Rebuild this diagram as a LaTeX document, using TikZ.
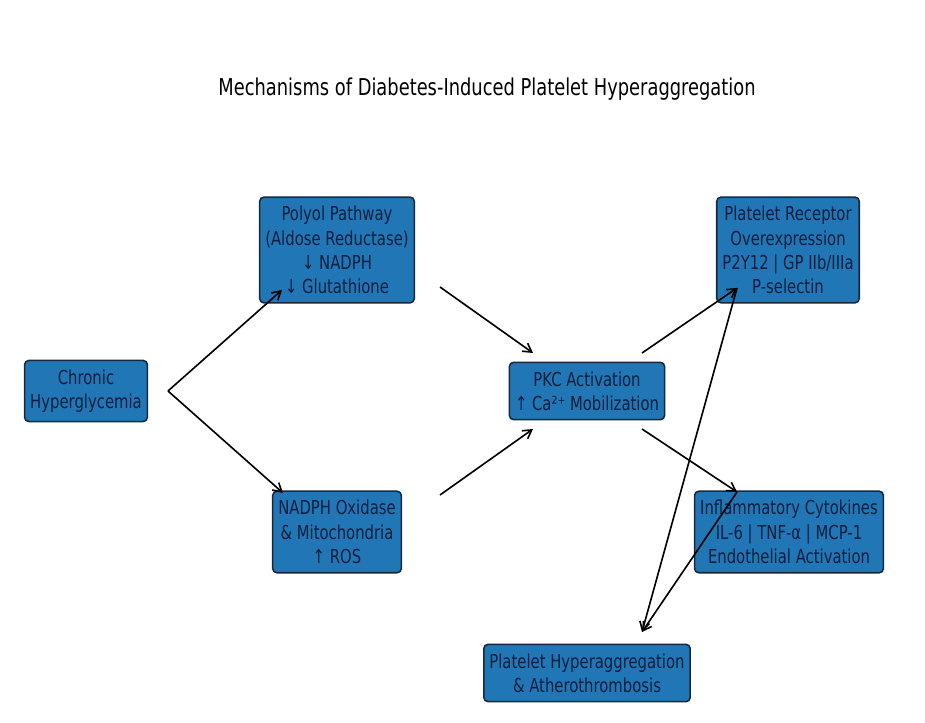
\documentclass[tikz,border=0pt]{standalone}
\usepackage{fontspec}
\setmainfont[FakeStretch=0.77]{DejaVu Sans}
\usepackage{tikz}
\usetikzlibrary{arrows.meta}
\definecolor{boxblue}{RGB}{33, 119, 182}
\definecolor{boxedge}{RGB}{22, 40, 62}
\definecolor{navytext}{RGB}{12, 30, 62}

\begin{document}
\begin{tikzpicture}[
    mech/.style={draw=boxedge, line width=1.1pt, fill=boxblue, rounded corners=3pt,
        text=navytext, align=center, inner xsep=4pt, inner ysep=6.5pt,
        font=\fontsize{13.7}{17.2}\selectfont},
    flow/.style={-{Straight Barb[length=6pt,width=7pt]}, line width=1.15pt, black}
  ]
            \useasboundingbox (0,0) rectangle (23.125,18.075);
            \node[font=\fontsize{16.5}{19}\selectfont] (title) at (12.175,15.85) {Mechanisms of Diabetes-Induced Platelet Hyperaggregation};

            \node[mech] (chronic) at (2.15,8.3) {Chronic\\Hyperglycemia};
            \node[mech] (polyol) at (8.425,11.825) {Polyol Pathway\\(Aldose Reductase)\\↓ NADPH\\↓ Glutathione};
            \node[mech] (nox) at (8.425,4.775) {NADPH Oxidase\\\& Mitochondria\\↑ ROS};
            \node[mech] (pkc) at (14.675,8.3) {PKC Activation\\↑ Ca²⁺ Mobilization};
            \node[mech] (receptor) at (19.7,11.825) {Platelet Receptor\\Overexpression\\P2Y12 | GP IIb/IIIa\\P-selectin};
            \node[mech] (cytokines) at (19.725,4.775) {Inflammatory Cytokines\\IL-6 | TNF-α | MCP-1\\Endothelial Activation};
            \node[mech] (hyper) at (14.675,1.25) {Platelet Hyperaggregation\\\& Atherothrombosis};

            % glucose branches
            \draw[flow] ([shift={(2.05,0)}]chronic.center) -- ([shift={(-1.375,-1.0)}]polyol.center);
            \draw[flow] ([shift={(2.05,0)}]chronic.center) -- ([shift={(-1.35,0.975)}]nox.center);

            \draw[flow] ([shift={(2.575,-0.925)}]polyol.center) -- ([shift={(-1.35,0.95)}]pkc.center);
            \draw[flow] ([shift={(2.575,0.925)}]nox.center) -- ([shift={(-1.35,-0.95)}]pkc.center);

            \draw[flow] ([shift={(1.375,0.95)}]pkc.center) -- ([shift={(-1.275,-0.95)}]receptor.center);
            \draw[flow] ([shift={(1.375,-0.95)}]pkc.center) -- ([shift={(-1.3,1.0)}]cytokines.center);

            % outcome
            \draw[flow] ([shift={(-1.275,-0.95)}]receptor.center) -- ([shift={(1.375,1.025)}]hyper.center);
            \draw[flow] ([shift={(-1.3,1.0)}]cytokines.center) -- ([shift={(1.375,1.025)}]hyper.center);
        \end{tikzpicture}
\end{document}
